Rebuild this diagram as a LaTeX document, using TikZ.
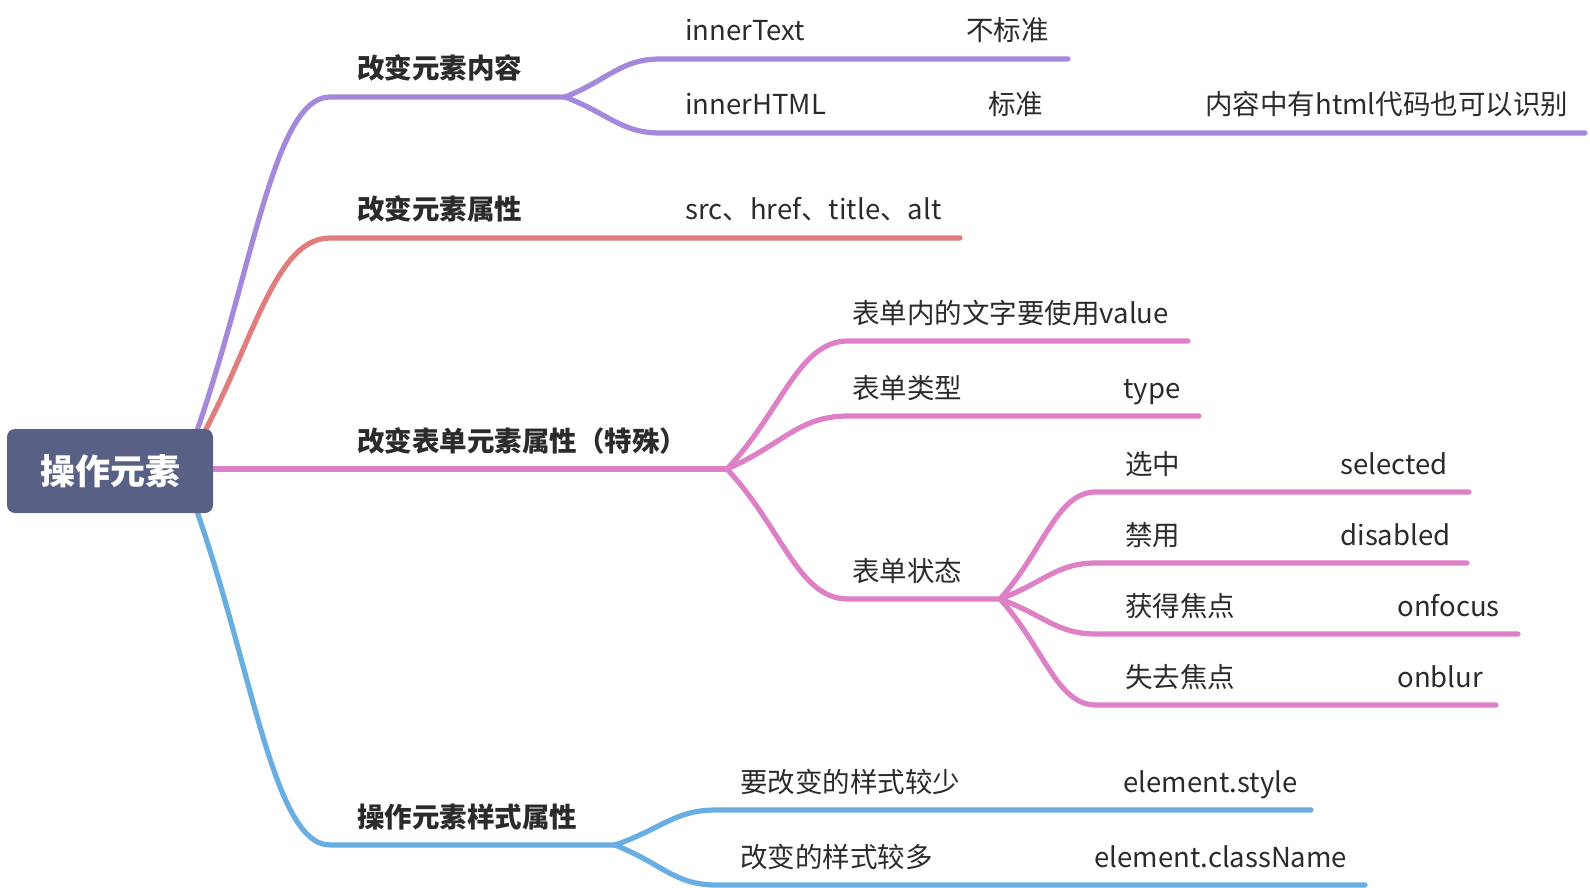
\documentclass[tikz,border=0pt]{standalone}
\usepackage{fontspec}
\setmainfont{Noto Sans CJK SC}
\usetikzlibrary{calc,backgrounds}

\definecolor{rootblue}{HTML}{596085}
\definecolor{lavender}{HTML}{A388DB}
\definecolor{salmon}{HTML}{E07E7E}
\definecolor{orchid}{HTML}{DD80C6}
\definecolor{skyblue}{HTML}{68AEE2}
\definecolor{ink}{HTML}{2B2B2B}

\tikzset{
  branch/.style={line width=2.6pt, line cap=round,
    to path={.. controls ($(\tikztostart)!0.46!(\tikztotarget)$)
      and ($(\tikztotarget)!0.41!(\tikztostart |- \tikztotarget)$) .. (\tikztotarget)}},
  lbl/.style={anchor=base west, inner sep=0pt, text=ink, font=\fontsize{13.75}{16}\selectfont},
  topic/.style={lbl, font=\fontsize{13.75}{16}\selectfont\bfseries},
  rootbox/.style={fill=rootblue, rounded corners=4pt, minimum width=103pt, minimum height=42pt,
    text=white, font=\fontsize{17.5}{20}\selectfont\bfseries}
}

\begin{document}
\begin{tikzpicture}[x=0.5pt, y=-0.5pt]

		\useasboundingbox (0, 0) rectangle (1590, 888);

		\node [rootbox] (root) at (110, 471) {操作元素};
		\coordinate (hub) at (182, 471);

		% first level
		\coordinate (c-content) at (330, 97);
		\coordinate (f-content) at (565, 97);
		\coordinate (c-attr) at (330, 238);
		\coordinate (e-attr) at (960, 238);
		\coordinate (f-form) at (727, 469);
		\coordinate (c-style) at (330, 845);
		\coordinate (f-style) at (615, 845);

		% second level
		\coordinate (c-innertext) at (660, 59);
		\coordinate (e-innertext) at (1068, 59);
		\coordinate (c-innerhtml) at (660, 133);
		\coordinate (e-innerhtml) at (1585, 133);
		\coordinate (c-value) at (848, 341);
		\coordinate (e-value) at (1188, 341);
		\coordinate (c-type) at (848, 416);
		\coordinate (e-type) at (1199, 416);
		\coordinate (c-state) at (848, 599);
		\coordinate (f-state) at (1000, 599);
		\coordinate (c-few) at (716, 810);
		\coordinate (e-few) at (1311, 810);
		\coordinate (c-many) at (716, 885);
		\coordinate (e-many) at (1365, 885);

		% third level
		\coordinate (c-selected) at (1096, 492);
		\coordinate (e-selected) at (1469, 492);
		\coordinate (c-disabled) at (1096, 563);
		\coordinate (e-disabled) at (1467, 563);
		\coordinate (c-focus) at (1096, 634);
		\coordinate (e-focus) at (1518, 634);
		\coordinate (c-blur) at (1096, 705);
		\coordinate (e-blur) at (1496, 705);

		\begin{scope}[on background layer]
		\draw [branch, lavender] (hub) to (c-content) -- (f-content);
		\draw [branch, lavender] (f-content) to (c-innertext) -- (e-innertext);
		\draw [branch, lavender] (f-content) to (c-innerhtml) -- (e-innerhtml);

		\draw [branch, salmon] (hub) to (c-attr) -- (e-attr);

		\draw [branch, orchid] (root.east |- f-form) -- (f-form);
		\draw [branch, orchid] (f-form) to (c-value) -- (e-value);
		\draw [branch, orchid] (f-form) to (c-type) -- (e-type);
		\draw [branch, orchid] (f-form) to (c-state) -- (f-state);
		\draw [branch, orchid] (f-state) to (c-selected) -- (e-selected);
		\draw [branch, orchid] (f-state) to (c-disabled) -- (e-disabled);
		\draw [branch, orchid] (f-state) to (c-focus) -- (e-focus);
		\draw [branch, orchid] (f-state) to (c-blur) -- (e-blur);

		\draw [branch, skyblue] (hub) to (c-style) -- (f-style);
		\draw [branch, skyblue] (f-style) to (c-few) -- (e-few);
		\draw [branch, skyblue] (f-style) to (c-many) -- (e-many);
		\end{scope}

		% labels
		\node [topic] (content) at (357, 79) {改变元素内容};
		\node [lbl] (innertext) at (685, 41) {innerText};
		\node [lbl] (nonstd) at (966, 41) {不标准};
		\node [lbl] (innerhtml) at (685, 115) {innerHTML};
		\node [lbl] (std) at (988, 115) {标准};
		\node [lbl] (htmlnote) at (1205, 115) {内容中有html代码也可以识别};

		\node [topic] (attr) at (357, 220) {改变元素属性};
		\node [lbl] (attrlist) at (685, 220) {src、href、title、alt};

		\node [topic] (form) at (357, 451) {改变表单元素属性（特殊）};
		\node [lbl] (formvalue) at (852, 323) {表单内的文字要使用value};
		\node [lbl] (formtype) at (852, 398) {表单类型};
		\node [lbl] (typeval) at (1123, 398) {type};
		\node [lbl] (formstate) at (852, 581) {表单状态};
		\node [lbl] (selected-t) at (1125, 474) {选中};
		\node [lbl] (selected) at (1340, 474) {selected};
		\node [lbl] (disabled-t) at (1125, 545) {禁用};
		\node [lbl] (disabled) at (1340, 545) {disabled};
		\node [lbl] (focus-t) at (1125, 616) {获得焦点};
		\node [lbl] (onfocus) at (1397, 616) {onfocus};
		\node [lbl] (blur-t) at (1125, 687) {失去焦点};
		\node [lbl] (onblur) at (1397, 687) {onblur};

		\node [topic] (style) at (357, 827) {操作元素样式属性};
		\node [lbl] (fewstyle) at (740, 792) {要改变的样式较少};
		\node [lbl] (elstyle) at (1123, 792) {element.style};
		\node [lbl] (manystyle) at (740, 867) {改变的样式较多};
		\node [lbl] (classname) at (1094, 867) {element.className};

\end{tikzpicture}
\end{document}
